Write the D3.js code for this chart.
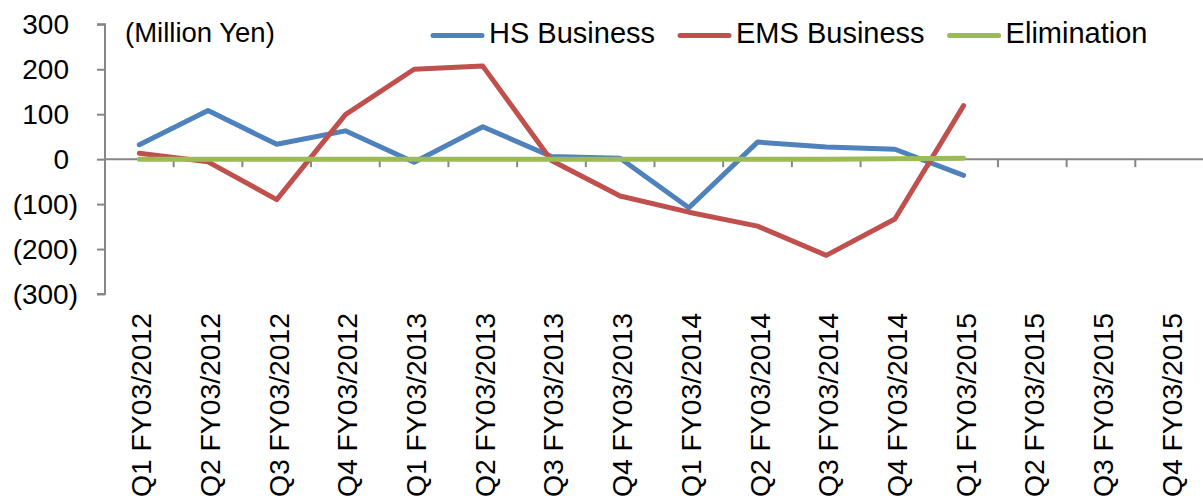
<!DOCTYPE html>
<html>
<head>
<meta charset="utf-8">
<script src="https://cdn.jsdelivr.net/npm/d3@7"></script>
<style>
    body { margin: 0; background: #fff; }
    text { font-family: "Liberation Sans", Arial, sans-serif; fill: #000; }
</style>
</head>
<body>
<svg id="chart" width="1203" height="504"></svg>
<script>
// ---------------------------- DATA ----------------------------
const quarters = [
    "Q1 FY03/2012", "Q2 FY03/2012", "Q3 FY03/2012", "Q4 FY03/2012",
    "Q1 FY03/2013", "Q2 FY03/2013", "Q3 FY03/2013", "Q4 FY03/2013",
    "Q1 FY03/2014", "Q2 FY03/2014", "Q3 FY03/2014", "Q4 FY03/2014",
    "Q1 FY03/2015", "Q2 FY03/2015", "Q3 FY03/2015", "Q4 FY03/2015"
];

// Only the first 13 quarters have values
const hsBusiness = [32, 108, 33, 63, -7, 72, 6, 2, -108, 38, 27, 22, -36];
const emsBusiness = [13, -6, -90, 99, 200, 207, -3, -82, -118, -149, -214, -133, 119];
const elimination = [0, 0, 0, 0, 0, 0, 0, 0, 0, 0, 0, 1, 2];

const seriesNames = ["HS Business", "EMS Business", "Elimination"];
const seriesColours = ["#4f81bd", "#c0504d", "#9bbb59"];

const yTicks = [-300, -200, -100, 0, 100, 200, 300];

// ---------------------------- SCALES ----------------------------
const svg = d3.select("#chart");
const plotLeft = 105;
const plotRight = 1204;

const x = d3.scaleBand()
    .domain(quarters)
    .range([plotLeft, plotRight]);
const y = d3.scaleLinear()
    .domain([-300, 300])
    .range([294, 24.3]);

const axisColour = "#868686";

// Format numbers Excel-style: negatives in brackets
function fmt(v) {
    return v < 0 ? "(" + Math.abs(v) + ")" : String(v);
}

// ---------------------------- Y AXIS ----------------------------
const yAxis = svg.append("g")
    .attr("transform", "translate(" + plotLeft + ",0)")
    .call(d3.axisLeft(y).tickValues(yTicks).tickSize(8).tickFormat(""));
yAxis.select(".domain").attr("stroke", axisColour).attr("stroke-width", 2)
    .attr("d", "M-8," + y(300) + "H0V" + y(-300) + "H-8");
yAxis.selectAll(".tick line").attr("stroke", axisColour).attr("stroke-width", 2);

// labels; positive numbers leave room for the closing bracket
svg.append("g")
    .selectAll("text")
    .data(yTicks)
    .enter()
    .append("text")
    .attr("x", d => d < 0 ? 78 : 69)
    .attr("y", d => y(d))
    .attr("dy", "0.35em")
    .attr("text-anchor", "end")
    .style("font-size", "28px")
    .text(d => fmt(d));

// ---------------------------- X AXIS ----------------------------
const zeroY = y(0);
svg.append("line")
    .attr("x1", plotLeft)
    .attr("x2", 1203)
    .attr("y1", zeroY)
    .attr("y2", zeroY)
    .attr("stroke", axisColour)
    .attr("stroke-width", 2);

// tick marks on category boundaries
svg.append("g")
    .selectAll("line")
    .data(quarters.slice(1))
    .enter()
    .append("line")
    .attr("x1", d => x(d))
    .attr("x2", d => x(d))
    .attr("y1", zeroY)
    .attr("y2", zeroY + 8)
    .attr("stroke", axisColour)
    .attr("stroke-width", 2);

// rotated category labels
svg.append("g")
    .selectAll("text")
    .data(quarters)
    .enter()
    .append("text")
    .attr("transform", d => "translate(" + (x(d) + x.bandwidth() / 2 + 12) + ",313) rotate(-90)")
    .attr("text-anchor", "end")
    .style("font-size", "28.3px")
    .text(d => d);

// ---------------------------- LINES ----------------------------
const allSeries = [hsBusiness, emsBusiness, elimination];
const line = d3.line()
    .x((d, i) => x(quarters[i]) + x.bandwidth() / 2)
    .y(d => y(d));

svg.append("g")
    .selectAll("path")
    .data(allSeries)
    .enter()
    .append("path")
    .attr("d", d => line(d))
    .attr("fill", "none")
    .attr("stroke", (d, i) => seriesColours[i])
    .attr("stroke-width", 5)
    .attr("stroke-linejoin", "round")
    .attr("stroke-linecap", "round");

// ---------------------------- UNIT LABEL ----------------------------
svg.append("text")
    .attr("x", 125)
    .attr("y", 41.5)
    .style("font-size", "27.5px")
    .text("(Million Yen)");

// ---------------------------- LEGEND ----------------------------
const legend = svg.append("g");
let legendX = 431;
seriesNames.forEach((name, i) => {
    legend.append("line")
        .attr("x1", legendX + 2)
        .attr("x2", legendX + 51)
        .attr("y1", 35.5)
        .attr("y2", 35.5)
        .attr("stroke", seriesColours[i])
        .attr("stroke-width", 5)
        .attr("stroke-linecap", "round");
    const t = legend.append("text")
        .attr("x", legendX + 58)
        .attr("y", 43.3)
        .style("font-size", "29px")
        .text(name);
    legendX += 58 + t.node().getComputedTextLength() + 23;
});
</script>
</body>
</html>
